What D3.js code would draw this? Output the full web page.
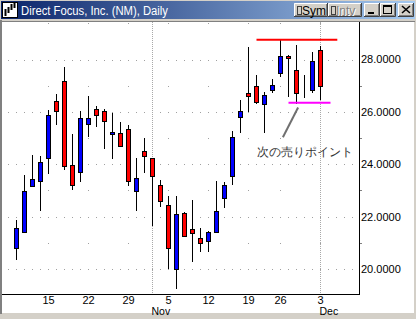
<!DOCTYPE html>
<html>
<head>
<meta charset="utf-8">
<script src="https://cdn.jsdelivr.net/npm/d3@7"></script>
<style>
  body { margin: 0; background: #d4d0c8; }
  svg { display: block; }
  text { font-family: "Liberation Sans", Arial, sans-serif; }
</style>
</head>
<body>
<svg id="svg" width="416" height="319"></svg>
<script>
// trading days shown, Oct 9 .. Dec 3 2001 (no Thanksgiving)
var dates = ["Oct 9", "Oct 10", "Oct 11", "Oct 12",
  "Oct 15", "Oct 16", "Oct 17", "Oct 18", "Oct 19",
  "Oct 22", "Oct 23", "Oct 24", "Oct 25", "Oct 26",
  "Oct 29", "Oct 30", "Oct 31", "Nov 1", "Nov 2",
  "Nov 5", "Nov 6", "Nov 7", "Nov 8", "Nov 9",
  "Nov 12", "Nov 13", "Nov 14", "Nov 15", "Nov 16",
  "Nov 19", "Nov 20", "Nov 21", "Nov 23",
  "Nov 26", "Nov 27", "Nov 28", "Nov 29", "Nov 30",
  "Dec 3"];
var open  = [20.80, 21.43, 23.17, 23.37, 24.24, 26.41, 27.18, 23.99, 23.72, 25.53, 26.10, 26.03, 25.14, 25.18, 25.33, 22.99, 24.49, 24.22, 23.22, 22.45, 19.99, 22.14, 21.53, 21.18, 21.07, 21.41, 22.72, 23.57, 25.80, 26.73, 26.99, 26.30, 26.83, 27.49, 28.14, 27.60, 27.04, 26.83, 28.37];
var high  = [21.87, 23.58, 24.35, 24.30, 26.08, 26.69, 27.73, 25.15, 26.04, 26.62, 26.23, 26.10, 25.97, 25.60, 25.50, 24.22, 25.00, 24.25, 23.38, 22.77, 22.77, 22.18, 22.62, 21.58, 21.45, 23.35, 23.32, 25.27, 26.46, 28.46, 27.42, 26.77, 27.25, 28.80, 28.18, 28.56, 27.42, 28.27, 28.53];
var low   = [20.40, 21.40, 23.17, 22.24, 23.67, 25.55, 23.80, 23.05, 23.36, 25.08, 25.47, 24.63, 24.24, 24.68, 23.20, 22.24, 23.70, 21.69, 22.40, 20.05, 19.28, 21.26, 20.32, 20.68, 20.67, 21.41, 22.36, 23.23, 25.24, 26.03, 26.32, 25.24, 26.75, 27.36, 26.59, 26.32, 26.55, 26.76, 26.51];
var close = [21.57, 22.99, 23.45, 24.07, 25.87, 26.03, 23.95, 23.22, 25.76, 25.76, 25.87, 25.64, 25.22, 24.68, 23.36, 23.49, 24.30, 23.57, 22.60, 20.80, 22.10, 21.26, 21.37, 20.99, 21.41, 22.23, 23.20, 25.04, 26.04, 26.60, 26.37, 26.64, 27.03, 28.14, 28.06, 26.72, 27.04, 27.95, 26.99];

var mondays = ["Oct 15", "Oct 22", "Oct 29", "Nov 5", "Nov 12", "Nov 19", "Nov 26", "Dec 3"];
var monthStarts = ["Nov 1", "Dec 3"];
var monthNames = ["Nov", "Dec"];
var yTicks = [20, 22, 24, 26, 28];
var yMinor = [21, 23, 25, 27];

// hand drawn lines: [from day, to day, price]
var topLine = [30, 40.1, 28.75];
var bottomLine = [34, 39.25, 26.35];
var pointer = [[35.2, 26.17], [33.3, 25.03]];
var note = "次の売りポイント";
var notePos = [30.1, 24.47];

var svg = d3.select("#svg");
var W = 416, H = 319;

// ---- window frame ----
svg.append("rect").attr("width", W).attr("height", H).attr("fill", "#d4d0c8");
svg.append("rect").attr("x", 0).attr("y", 20).attr("width", 2).attr("height", 294).attr("fill", "#808080");
svg.append("rect").attr("x", 0).attr("y", 21).attr("width", 415).attr("height", 1).attr("fill", "#808080");
svg.append("rect").attr("x", 2).attr("y", 22).attr("width", 412).attr("height", 291).attr("fill", "#fff");

var grad = svg.append("defs").append("linearGradient").attr("id", "tb");
grad.append("stop").attr("offset", "0%").attr("stop-color", "#0a246a");
grad.append("stop").attr("offset", "100%").attr("stop-color", "#a6caf0");
svg.append("rect").attr("x", 1).attr("y", 1).attr("width", 414).attr("height", 18).attr("fill", "url(#tb)");

// icon
var ic = svg.append("g");
ic.append("rect").attr("x", 2.5).attr("y", 2.5).attr("width", 15).attr("height", 15).attr("fill", "#fff").attr("stroke", "#000");
[[5, 9, 16], [8, 7, 13], [11, 4, 10], [14, 3, 8]].forEach(function (b) {
  ic.append("line").attr("x1", b[0] + 0.5).attr("x2", b[0] + 0.5).attr("y1", b[1]).attr("y2", b[2]).attr("stroke", "#000").attr("stroke-width", 2);
});
svg.append("text").attr("x", 21).attr("y", 15).attr("fill", "#fff").attr("font-size", 12)
  .attr("textLength", 147).attr("lengthAdjust", "spacingAndGlyphs")
  .text("Direct Focus, Inc. (NM), Daily");

function button(x, y, w, h) {
  var g = svg.append("g");
  g.append("rect").attr("x", x).attr("y", y).attr("width", w).attr("height", h).attr("fill", "#d4d0c8");
  g.append("path").attr("d", "M" + (x + 0.5) + "," + (y + h - 1) + "V" + (y + 0.5) + "H" + (x + w - 1)).attr("stroke", "#fff").attr("fill", "none");
  g.append("path").attr("d", "M" + (x + 1) + "," + (y + h - 1.5) + "H" + (x + w - 1.5) + "V" + (y + 1)).attr("stroke", "#808080").attr("fill", "none");
  g.append("path").attr("d", "M" + x + "," + (y + h - 0.5) + "H" + (x + w - 0.5) + "V" + y).attr("stroke", "#404040").attr("fill", "none");
  return g;
}
var b1 = button(294, 3, 34, 14);
b1.append("rect").attr("x", 297.5).attr("y", 6.5).attr("width", 4).attr("height", 8).attr("fill", "#d4d0c8").attr("stroke", "#404040");
b1.append("text").attr("x", 302).attr("y", 15).attr("font-size", 12).attr("fill", "#000").text("Sym");
var b2 = button(328, 3, 34, 14);
b2.append("rect").attr("x", 331.5).attr("y", 6.5).attr("width", 4).attr("height", 8).attr("fill", "#d4d0c8").attr("stroke", "#404040");
b2.append("text").attr("x", 337).attr("y", 16).attr("font-size", 12).attr("fill", "#fff").text("Intv");
b2.append("text").attr("x", 336).attr("y", 15).attr("font-size", 12).attr("fill", "#808080").text("Intv");
var b3 = button(364, 3, 16, 14);
b3.append("rect").attr("x", 368).attr("y", 12).attr("width", 6).attr("height", 2).attr("fill", "#000");
var b4 = button(380, 3, 16, 14);
b4.append("rect").attr("x", 383.5).attr("y", 5.5).attr("width", 8).attr("height", 8).attr("fill", "none").attr("stroke", "#000");
b4.append("rect").attr("x", 383).attr("y", 5).attr("width", 9).attr("height", 2).attr("fill", "#000");
var b5 = button(398, 3, 16, 14);
b5.append("path").attr("d", "M402,6L410,13M410,6L402,13").attr("stroke", "#000").attr("stroke-width", 1.6);

// ---- chart ----
var x = d3.scaleLinear().domain([0, dates.length - 1]).range([16.5, 320.5]);
var y = d3.scaleLinear().domain([20, 28]).range([269, 59.5]);
var px = function (v) { return Math.round(y(v)); };
var idx = function (d) { return dates.indexOf(d); };

var grid = svg.append("g").attr("fill", "#a0a0a0");
yTicks.forEach(function (v) {
  d3.range(-1, 43).forEach(function (i) {
    grid.append("rect").attr("x", Math.floor(x(i))).attr("y", px(v)).attr("width", 1).attr("height", 1);
  });
});
yMinor.forEach(function (v) {
  mondays.forEach(function (m) {
    grid.append("rect").attr("x", Math.floor(x(idx(m)))).attr("y", px(v)).attr("width", 1).attr("height", 1);
  });
});
mondays.forEach(function (m) {
  grid.append("rect").attr("x", Math.floor(x(idx(m)))).attr("y", 23).attr("width", 1).attr("height", 1);
});
monthStarts.forEach(function (m) {
  svg.append("line").attr("x1", x(idx(m))).attr("x2", x(idx(m))).attr("y1", 22).attr("y2", 294)
    .attr("stroke", "#a8a8a8").attr("stroke-dasharray", "1,1");
});

// axes
svg.append("line").attr("x1", 359.5).attr("x2", 359.5).attr("y1", 22).attr("y2", 294).attr("stroke", "#000");
svg.append("line").attr("x1", 2).attr("x2", 360).attr("y1", 294.5).attr("y2", 294.5).attr("stroke", "#000");
yMinor.forEach(function (v) {
  svg.append("line").attr("x1", 360).attr("x2", 362).attr("y1", px(v) + 0.5).attr("y2", px(v) + 0.5).attr("stroke", "#808080");
});
svg.append("g").selectAll("text").data(yTicks).enter().append("text")
  .attr("x", 361).attr("y", function (d) { return y(d); }).attr("dy", "0.36em")
  .attr("font-size", 11).attr("fill", "#000")
  .text(function (d) { return d3.format(".4f")(d); });
svg.append("g").selectAll("text").data(mondays).enter().append("text")
  .attr("x", function (d) { return x(idx(d)); }).attr("y", 304)
  .attr("text-anchor", "middle").attr("font-size", 11).attr("fill", "#000")
  .text(function (d) { return d.split(" ")[1]; });
svg.append("g").selectAll("text").data(monthStarts).enter().append("text")
  .attr("x", function (d) { return x(idx(d)) - 1; }).attr("y", 315)
  .attr("font-size", 10.5).attr("fill", "#000")
  .text(function (d, i) { return monthNames[i]; });

// candles
var candles = svg.append("g").selectAll("g").data(dates).enter().append("g");
candles.append("line")
  .attr("x1", function (d, i) { return x(i); }).attr("x2", function (d, i) { return x(i); })
  .attr("y1", function (d, i) { return px(high[i]); }).attr("y2", function (d, i) { return px(low[i]) + 1; })
  .attr("stroke", "#000");
candles.append("rect")
  .attr("x", function (d, i) { return x(i) - 2; })
  .attr("y", function (d, i) { return px(Math.max(open[i], close[i])) + 0.5; })
  .attr("width", 4)
  .attr("height", function (d, i) { return px(Math.min(open[i], close[i])) - px(Math.max(open[i], close[i])); })
  .attr("fill", function (d, i) { return close[i] > open[i] ? "#0000ff" : close[i] < open[i] ? "#ff0000" : "#000"; })
  .attr("stroke", "#000");

// annotations
[[topLine, "#ff0000"], [bottomLine, "#ff00ff"]].forEach(function (a) {
  svg.append("line").attr("x1", x(a[0][0])).attr("x2", x(a[0][1]))
    .attr("y1", y(a[0][2])).attr("y2", y(a[0][2]))
    .attr("stroke", a[1]).attr("stroke-width", 2);
});
svg.append("line").attr("x1", x(pointer[0][0])).attr("y1", y(pointer[0][1]))
  .attr("x2", x(pointer[1][0])).attr("y2", y(pointer[1][1]))
  .attr("stroke", "#707070").attr("stroke-width", 2);
svg.append("text").attr("x", x(notePos[0])).attr("y", y(notePos[1])).attr("dy", "0.36em")
  .attr("font-family", "'Noto Sans CJK JP', sans-serif").attr("font-size", 12).attr("fill", "#333")
  .text(note);
</script>
</body>
</html>
